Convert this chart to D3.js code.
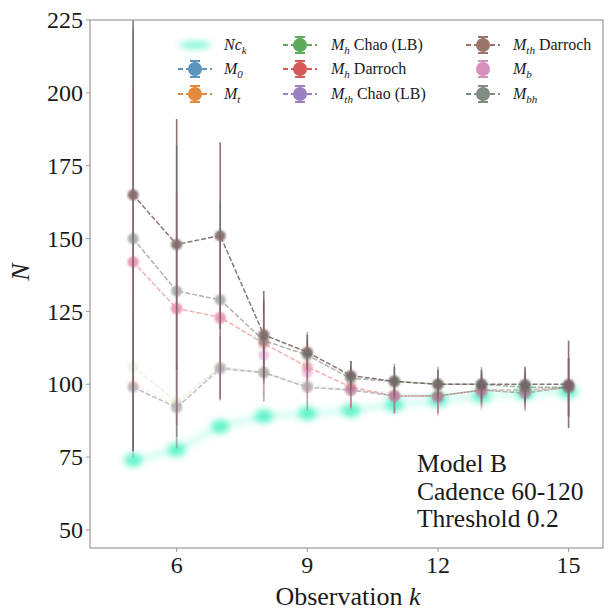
<!DOCTYPE html>
<html><head><meta charset="utf-8">
<script src="https://cdn.jsdelivr.net/npm/d3@7"></script>
<style>body{margin:0;background:#fff}svg{display:block}</style>
</head><body>
<svg id="c" width="611" height="613"></svg>
<script>
const ks = [5,6,7,8,9,10,11,12,13,14,15];
const Nc = [74, 77.5, 85.5, 89, 90, 91, 93, 94.5, 96, 97, 97.5];
const M0 = [99, 92, 105, 104, 99, 98, 96, 96, 98, 97, 99];
const M0err = [22, 14, 11, 10, 8, 6, 6, 6, 5, 6, 10];
const Mt = [100, 93, 106, 104, 99, 98, 96, 96, 98, 97, 99];
const Mterr = [22, 14, 11, 10, 8, 6, 6, 6, 5, 6, 10];
const MhChao = [106, 94, 106, 104, 100, 98, 97, 96, 98, 97, 99];
const MhChaoErr = [24, 14, 11, 10, 8, 6, 6, 6, 5, 6, 10];
const MhDarroch = [142, 126, 123, 114, 106, 99, 96, 96, 98, 98, 99];
const MhDarrochErr = [60, 40, 28, 14, 9, 7, 6, 6, 6, 6, 10];
const MthChao = [99, 92, 105.5, 104, 99, 98, 96, 96, 98, 97, 99];
const MthChaoErr = [24, 14, 11, 10, 8, 6, 6, 6, 5, 6, 10];
const MthDarroch = [165, 148, 151, 117, 111, 103, 101, 100, 100, 100, 100];
const MthDarrochErr = [88, 43, 32, 15, 6, 5, 5, 5, 5, 6, 15];
const Mb = [142, 126, 122.5, 110, 104, 98, 96, 95, 97, 97, 99];
const MbErr = [60, 40, 28, 14, 9, 7, 6, 6, 6, 6, 10];
const Mbh = [150, 132, 129, 115, 110, 102, 101, 100, 100, 99, 99];
const MbhErr = [72, 50, 34, 14, 8, 6, 6, 6, 6, 6, 10];
const yTicks = [50, 75, 100, 125, 150, 175, 200, 225];
const xTicks = [6, 9, 12, 15];

const series = [
  {name:"M0", sub:"0", base:"M", vals:M0, err:M0err, color:"#1f77b4", line:true, op:0.12},
  {name:"Mt", sub:"t", base:"M", vals:Mt, err:Mterr, color:"#ff7f0e", line:true, op:0.1},
  {name:"MhChao", sub:"h", base:"M", rest:" Chao (LB)", vals:MhChao, err:MhChaoErr, color:"#2ca02c", line:true, op:0.1},
  {name:"MhDarroch", sub:"h", base:"M", rest:" Darroch", vals:MhDarroch, err:MhDarrochErr, color:"#d62728", line:true, op:0.35},
  {name:"MthChao", sub:"th", base:"M", rest:" Chao (LB)", vals:MthChao, err:MthChaoErr, color:"#7a6a80", line:true, op:0.35},
  {name:"MthDarroch", sub:"th", base:"M", rest:" Darroch", vals:MthDarroch, err:MthDarrochErr, color:"#5a3a36", line:true, op:0.7},
  {name:"Mb", sub:"b", base:"M", vals:Mb, err:MbErr, color:"#e377c2", line:false, op:0.4},
  {name:"Mbh", sub:"bh", base:"M", vals:Mbh, err:MbhErr, color:"#5a6a60", line:true, op:0.5}
];
const legendColors = {M0:"#5a93bb", Mt:"#e58a3a", MhChao:"#5ea95a", MhDarroch:"#d55a54", MthChao:"#9b80bf", MthDarroch:"#9a756a", Mb:"#d590bd", Mbh:"#808c82"};

const svg = d3.select("#c").attr("font-family", "'Liberation Serif', 'DejaVu Serif', serif");
const defs = svg.append("defs");
defs.append("filter").attr("id","blur").attr("x","-50%").attr("y","-50%").attr("width","200%").attr("height","200%")
  .append("feGaussianBlur").attr("stdDeviation", 3);
defs.append("filter").attr("id","blur1").attr("x","-50%").attr("y","-50%").attr("width","200%").attr("height","200%")
  .append("feGaussianBlur").attr("stdDeviation", 1.2);
defs.append("clipPath").attr("id","clip").append("rect")
  .attr("x", 90).attr("y", 20).attr("width", 513).attr("height", 528);

const L = 90, R = 603, T = 20, B = 548;
const x = d3.scaleLinear().domain([4.01, 15.79]).range([L, R]);
const y = d3.scaleLinear().domain([43.82, 225]).range([B, T]);

const plot = svg.append("g").attr("clip-path","url(#clip)");

const ncLine = d3.line().x((d,i)=>x(ks[i])).y(d=>y(d));
plot.append("path").datum(Nc).attr("d", ncLine).attr("fill","none")
  .attr("stroke","#3af0c0").attr("stroke-width",7).attr("stroke-opacity",0.2)
  .attr("filter","url(#blur)");
plot.append("g").selectAll("ellipse").data(Nc).join("ellipse")
  .attr("cx",(d,i)=>x(ks[i])).attr("cy",d=>y(d)).attr("rx",9).attr("ry",7)
  .attr("fill","#2ff0b8").attr("opacity",0.7).attr("filter","url(#blur)");

series.forEach(s => {
  const g = plot.append("g").attr("opacity", s.op);
  const ln = d3.line().x((d,i)=>x(ks[i])).y(d=>y(d));
  if (s.line) g.append("path").datum(s.vals).attr("d", ln).attr("fill","none")
    .attr("stroke", s.color).attr("stroke-width",1.5).attr("stroke-dasharray","5,2");
  g.selectAll("line.eb").data(s.vals).join("line").attr("class","eb")
    .attr("x1",(d,i)=>x(ks[i])).attr("x2",(d,i)=>x(ks[i]))
    .attr("y1",(d,i)=>y(d - s.err[i])).attr("y2",(d,i)=>y(d + s.err[i]))
    .attr("stroke", s.color).attr("stroke-width",1.6);
  g.selectAll("circle").data(s.vals).join("circle")
    .attr("cx",(d,i)=>x(ks[i])).attr("cy",d=>y(d)).attr("r",5.5)
    .attr("fill", s.color).attr("filter","url(#blur1)");
});

svg.append("rect").attr("x",L).attr("y",T).attr("width",R-L).attr("height",B-T)
  .attr("fill","none").attr("stroke","#a8a8a8").attr("stroke-width",1.4);

const yg = svg.append("g");
yTicks.forEach(v => {
  yg.append("line").attr("x1",L-4).attr("x2",L).attr("y1",y(v)).attr("y2",y(v)).attr("stroke","#999").attr("stroke-width",1);
  yg.append("text").attr("x",L-7).attr("y",y(v)).attr("dy","0.34em").attr("text-anchor","end")
    .attr("font-size",24).attr("fill","#1a1a1a").text(v);
});
const xg = svg.append("g");
xTicks.forEach(v => {
  xg.append("line").attr("x1",x(v)).attr("x2",x(v)).attr("y1",B).attr("y2",B+4).attr("stroke","#999").attr("stroke-width",1);
  xg.append("text").attr("x",x(v)).attr("y",573).attr("text-anchor","middle")
    .attr("font-size",24).attr("fill","#1a1a1a").text(v);
});

const xl = svg.append("text").attr("x",348).attr("y",605).attr("text-anchor","middle").attr("font-size",26).attr("fill","#1a1a1a");
xl.append("tspan").text("Observation ");
xl.append("tspan").attr("font-style","italic").text("k");
svg.append("text").attr("transform","translate(29,272) rotate(-90)").attr("text-anchor","middle")
  .attr("font-size",26).attr("font-style","italic").attr("fill","#1a1a1a").text("N");

const ann = ["Model B", "Cadence 60-120", "Threshold 0.2"];
ann.forEach((t,i)=>{
  svg.append("text").attr("x",417).attr("y",472 + i*27.5).attr("font-size",25.5).attr("fill","#1a1a1a").text(t);
});

const cols = [195, 300, 483];
const labX = [224, 331, 513];
const rows = [45, 69, 94];
const legItems = [{nc:true}].concat(series);
const lg = svg.append("g");
legItems.forEach((it, idx) => {
  const c = Math.floor(idx/3), r = idx%3;
  const cx = cols[c], cy = rows[r];
  if (it.nc) {
    lg.append("ellipse").attr("cx",cx).attr("cy",cy).attr("rx",16).attr("ry",4)
      .attr("fill","#3af0c0").attr("opacity",0.6).attr("filter","url(#blur)");
    const t = lg.append("text").attr("x",labX[c]).attr("y",cy).attr("dy","0.32em").attr("font-size",16).attr("fill","#1a1a1a");
    t.append("tspan").attr("font-style","italic").text("Nc");
    t.append("tspan").attr("font-style","italic").attr("font-size",11).attr("dy",4).text("k");
    return;
  }
  const col = legendColors[it.name];
  if (it.line) {
    lg.append("line").attr("x1",cx-17).attr("x2",cx+17).attr("y1",cy).attr("y2",cy)
      .attr("stroke",col).attr("stroke-width",2).attr("stroke-dasharray","5,3");
  }
  lg.append("line").attr("x1",cx).attr("x2",cx).attr("y1",cy-8).attr("y2",cy+8).attr("stroke",col).attr("stroke-width",2);
  lg.append("line").attr("x1",cx-5).attr("x2",cx+5).attr("y1",cy-8).attr("y2",cy-8).attr("stroke",col).attr("stroke-width",2);
  lg.append("line").attr("x1",cx-5).attr("x2",cx+5).attr("y1",cy+8).attr("y2",cy+8).attr("stroke",col).attr("stroke-width",2);
  lg.append("circle").attr("cx",cx).attr("cy",cy).attr("r",7).attr("fill",col);
  const t = lg.append("text").attr("x",labX[c]).attr("y",cy).attr("dy","0.32em").attr("font-size",16).attr("fill","#1a1a1a");
  t.append("tspan").attr("font-style","italic").text(it.base);
  t.append("tspan").attr("font-style","italic").attr("font-size",11).attr("dy",4).text(it.sub);
  if (it.rest) t.append("tspan").attr("dy",-4).text(it.rest);
});
</script>
</body></html>
